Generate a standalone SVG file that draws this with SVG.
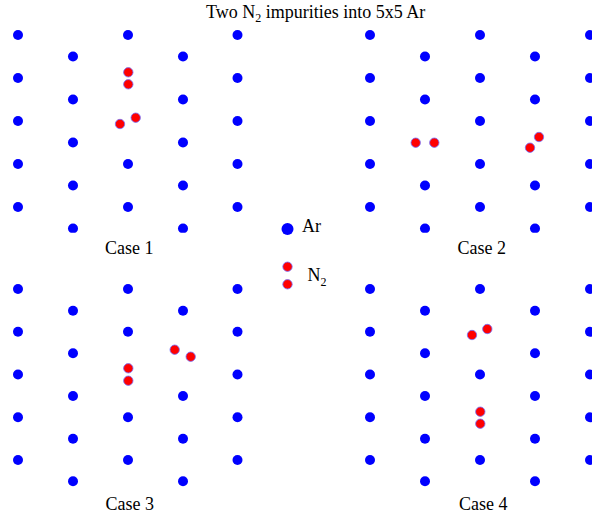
<svg xmlns="http://www.w3.org/2000/svg" xmlns:xlink="http://www.w3.org/1999/xlink" width="592" height="518" viewBox="0 0 592 518">
<style>
.ar{fill:#0000ff;}
.n2{fill:#ff0000;stroke:#7070ff;stroke-width:0.8;}
.t{font-family:"Liberation Serif","Times New Roman",serif;font-size:18px;fill:#000;}
</style>
<defs>
<clipPath id="topclip"><rect x="0" y="0" width="592" height="232.7"/></clipPath>
<circle id="a" r="5" class="ar"/>
<circle id="n" r="4.7" class="n2"/>
</defs>
<rect width="592" height="518" fill="#fff"/>
<text id="title" class="t" x="206" y="17.5">Two N<tspan font-size="12" dy="4">2</tspan><tspan dy="-4"> impurities into 5x5 Ar</tspan></text>

<g id="case1" clip-path="url(#topclip)">
<use xlink:href="#a" x="18" y="35"/><use xlink:href="#a" x="18" y="78"/><use xlink:href="#a" x="18" y="121"/><use xlink:href="#a" x="18" y="164"/><use xlink:href="#a" x="18" y="207"/>
<use xlink:href="#a" x="73" y="56.5"/><use xlink:href="#a" x="73" y="99.5"/><use xlink:href="#a" x="73" y="142.5"/><use xlink:href="#a" x="73" y="185.5"/><use xlink:href="#a" x="73" y="228.5"/>
<use xlink:href="#a" x="128" y="35"/><use xlink:href="#a" x="128" y="164"/><use xlink:href="#a" x="128" y="207"/>
<use xlink:href="#a" x="183" y="56.5"/><use xlink:href="#a" x="183" y="99.5"/><use xlink:href="#a" x="183" y="142.5"/><use xlink:href="#a" x="183" y="185.5"/><use xlink:href="#a" x="183" y="228.5"/>
<use xlink:href="#a" x="237.5" y="35"/><use xlink:href="#a" x="237.5" y="78"/><use xlink:href="#a" x="237.5" y="121"/><use xlink:href="#a" x="237.5" y="164"/><use xlink:href="#a" x="237.5" y="207"/>
<use xlink:href="#n" x="128.3" y="72.3"/><use xlink:href="#n" x="128.3" y="84.3"/>
<use xlink:href="#n" x="120" y="124"/><use xlink:href="#n" x="135.7" y="117.7"/>
</g>
<text id="label1" class="t" x="105" y="254">Case 1</text>

<g id="case2" clip-path="url(#topclip)">
<use xlink:href="#a" x="370" y="35"/><use xlink:href="#a" x="370" y="78"/><use xlink:href="#a" x="370" y="121"/><use xlink:href="#a" x="370" y="164"/><use xlink:href="#a" x="370" y="207"/>
<use xlink:href="#a" x="425" y="56.5"/><use xlink:href="#a" x="425" y="99.5"/><use xlink:href="#a" x="425" y="185.5"/><use xlink:href="#a" x="425" y="228.5"/>
<use xlink:href="#a" x="480" y="35"/><use xlink:href="#a" x="480" y="78"/><use xlink:href="#a" x="480" y="121"/><use xlink:href="#a" x="480" y="164"/><use xlink:href="#a" x="480" y="207"/>
<use xlink:href="#a" x="535" y="56.5"/><use xlink:href="#a" x="535" y="99.5"/><use xlink:href="#a" x="535" y="185.5"/><use xlink:href="#a" x="535" y="228.5"/>
<use xlink:href="#a" x="590" y="35"/><use xlink:href="#a" x="590" y="78"/><use xlink:href="#a" x="590" y="121"/><use xlink:href="#a" x="590" y="164"/><use xlink:href="#a" x="590" y="207"/>
<use xlink:href="#n" x="415.7" y="142.7"/><use xlink:href="#n" x="434.3" y="142.7"/>
<use xlink:href="#n" x="530" y="147.7"/><use xlink:href="#n" x="539" y="137"/>
</g>
<text id="label2" class="t" x="457.5" y="254">Case 2</text>

<g id="case3">
<use xlink:href="#a" x="18" y="289"/><use xlink:href="#a" x="18" y="331.8"/><use xlink:href="#a" x="18" y="374.5"/><use xlink:href="#a" x="18" y="417.3"/><use xlink:href="#a" x="18" y="460"/>
<use xlink:href="#a" x="73" y="310.7"/><use xlink:href="#a" x="73" y="353.3"/><use xlink:href="#a" x="73" y="396"/><use xlink:href="#a" x="73" y="438.7"/><use xlink:href="#a" x="73" y="481.3"/>
<use xlink:href="#a" x="128" y="289"/><use xlink:href="#a" x="128" y="331.8"/><use xlink:href="#a" x="128" y="417.3"/><use xlink:href="#a" x="128" y="460"/>
<use xlink:href="#a" x="183" y="310.7"/><use xlink:href="#a" x="183" y="396"/><use xlink:href="#a" x="183" y="438.7"/><use xlink:href="#a" x="183" y="481.3"/>
<use xlink:href="#a" x="237.5" y="289"/><use xlink:href="#a" x="237.5" y="331.8"/><use xlink:href="#a" x="237.5" y="374.5"/><use xlink:href="#a" x="237.5" y="417.3"/><use xlink:href="#a" x="237.5" y="460"/>
<use xlink:href="#n" x="128.3" y="368.3"/><use xlink:href="#n" x="128.3" y="380.7"/>
<use xlink:href="#n" x="174.7" y="349.7"/><use xlink:href="#n" x="190.7" y="356.7"/>
</g>
<text id="label3" class="t" x="105.5" y="510">Case 3</text>

<g id="case4">
<use xlink:href="#a" x="370" y="289"/><use xlink:href="#a" x="370" y="331.8"/><use xlink:href="#a" x="370" y="374.5"/><use xlink:href="#a" x="370" y="417.3"/><use xlink:href="#a" x="370" y="460"/>
<use xlink:href="#a" x="425" y="310.7"/><use xlink:href="#a" x="425" y="353.3"/><use xlink:href="#a" x="425" y="396"/><use xlink:href="#a" x="425" y="438.7"/><use xlink:href="#a" x="425" y="481.3"/>
<use xlink:href="#a" x="480" y="289"/><use xlink:href="#a" x="480" y="374.5"/><use xlink:href="#a" x="480" y="460"/>
<use xlink:href="#a" x="535" y="310.7"/><use xlink:href="#a" x="535" y="353.3"/><use xlink:href="#a" x="535" y="396"/><use xlink:href="#a" x="535" y="438.7"/><use xlink:href="#a" x="535" y="481.3"/>
<use xlink:href="#a" x="590" y="289"/><use xlink:href="#a" x="590" y="331.8"/><use xlink:href="#a" x="590" y="374.5"/><use xlink:href="#a" x="590" y="417.3"/><use xlink:href="#a" x="590" y="460"/>
<use xlink:href="#n" x="472" y="335"/><use xlink:href="#n" x="487.3" y="329"/>
<use xlink:href="#n" x="480.3" y="411.7"/><use xlink:href="#n" x="480.3" y="423.7"/>
</g>
<text id="label4" class="t" x="459" y="510">Case 4</text>

<g id="legend">
<circle cx="287.5" cy="229" r="6" class="ar"/>
<text class="t" x="302" y="231.5">Ar</text>
<circle cx="287.5" cy="266.7" r="4.7" class="n2"/>
<circle cx="287.5" cy="284.3" r="4.7" class="n2"/>
<text class="t" x="307.5" y="281">N<tspan font-size="12" dy="5">2</tspan></text>
</g>
</svg>
